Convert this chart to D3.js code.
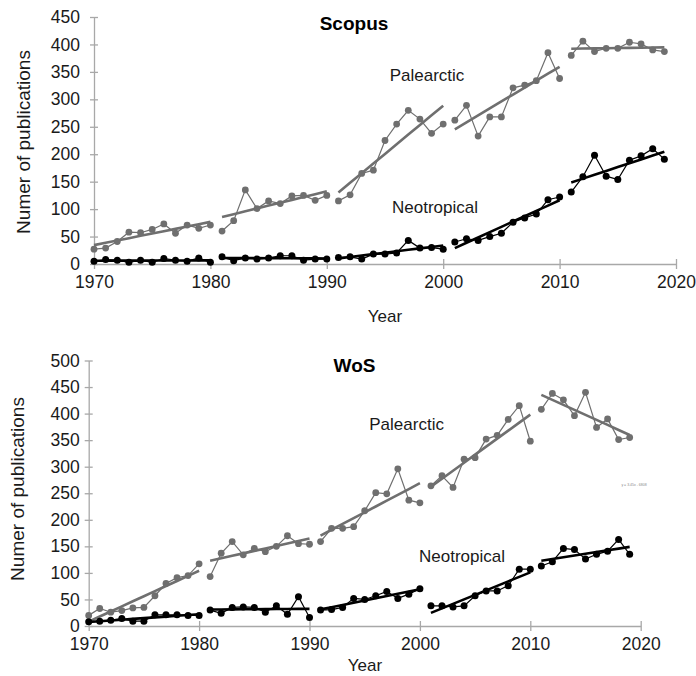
<!DOCTYPE html>
<html>
<head>
<meta charset="utf-8">
<script src="https://cdn.jsdelivr.net/npm/d3@7"></script>
<style>
  body { margin: 0; background: #fff; }
  svg { display: block; font-family: "Liberation Sans", Arial, sans-serif; }
</style>
</head>
<body>
<svg id="chart" width="696" height="676"></svg>
<script>
// years 1970..2019, each decade block drawn as its own segment
const years = d3.range(1970, 2020);
const blockStarts = [1970, 1981, 1991, 2001, 2011];
const blockEnds = [1980, 1990, 2000, 2010, 2019];

const scopusPalearctic = [
  27, 29, 41, 58, 57, 63, 73, 56, 71, 65, 71,
  60, 79, 135, 101, 115, 110, 124, 125, 116, 125,
  115, 126, 165, 171, 225, 255, 280, 264, 238, 255,
  262, 289, 233, 268, 268, 321, 326, 334, 385, 338,
  380, 406, 387, 393, 393, 404, 401, 390, 387
];
const scopusNeotropical = [
  5, 8, 7, 3, 7, 3, 10, 7, 5, 11, 3,
  13, 6, 11, 9, 11, 15, 15, 7, 9, 9,
  12, 13, 9, 18, 18, 20, 43, 29, 30, 27,
  40, 46, 43, 50, 56, 76, 84, 91, 117, 122,
  131, 159, 198, 160, 154, 189, 197, 210, 191
];
const wosPalearctic = [
  20, 33, 26, 29, 34, 35, 57, 80, 91, 95, 117,
  93, 137, 159, 134, 146, 140, 150, 170, 155, 154,
  159, 184, 184, 187, 217, 251, 249, 296, 237, 232,
  264, 283, 261, 314, 317, 352, 359, 389, 415, 348,
  408, 438, 426, 396, 440, 374, 390, 351, 355
];
const wosNeotropical = [
  8, 9, 11, 14, 9, 9, 21, 21, 21, 20, 20,
  30, 24, 35, 36, 35, 26, 38, 22, 55, 16,
  30, 31, 35, 52, 50, 57, 65, 52, 60, 70,
  38, 38, 36, 38, 57, 66, 66, 76, 107, 107,
  113, 121, 146, 144, 126, 135, 141, 163, 135
];
const xTicks = [1970, 1980, 1990, 2000, 2010, 2020];

const grey = "#6f6f6f";
const black = "#000";
const textColor = "#1a1a1a";
const axisColor = "#a8a8a8";

const svg = d3.select("#chart");

function fitLine(pts) {
  const mx = d3.mean(pts, d => d.year), my = d3.mean(pts, d => d.value);
  const sxy = d3.sum(pts, d => (d.year - mx) * (d.value - my));
  const sxx = d3.sum(pts, d => (d.year - mx) * (d.year - mx));
  const b = sxy / sxx;
  return pts.map(d => ({ year: d.year, value: my + b * (d.year - mx) }));
}

function drawPanel(p) {
  const g = svg.append("g");
  const x = d3.scaleLinear().domain([1970, 2020]).range(p.xRange);
  const y = d3.scaleLinear().domain([0, p.yMax]).range(p.yRange);

  // y axis
  const ya = g.append("g")
    .attr("transform", "translate(" + p.xRange[0] + ",0)")
    .call(d3.axisLeft(y).tickValues(d3.range(0, p.yMax + 1, 50))
      .tickSizeInner(4).tickSizeOuter(0).tickPadding(p.yPad));
  ya.selectAll(".tick line").attr("x1", 4);

  // x axis
  const xa = g.append("g")
    .attr("transform", "translate(0," + p.yRange[0] + ")")
    .call(d3.axisBottom(x).tickValues(xTicks).tickFormat(d3.format("d"))
      .tickSizeInner(5).tickSizeOuter(0).tickPadding(7));
  xa.selectAll(".tick line").attr("y1", -5);

  g.selectAll(".domain, .tick line").attr("stroke", axisColor).attr("stroke-width", 1.3);
  g.selectAll(".tick text").attr("fill", textColor).style("font-size", "17.5px");

  const line = d3.line().x(d => x(d.year)).y(d => y(d.value));

  p.series.forEach(s => {
    const pts = years.map((yr, i) => ({ year: yr, value: s.values[i] }));
    blockStarts.forEach((st, k) => {
      const seg = pts.filter(d => d.year >= st && d.year <= blockEnds[k]);
      g.append("path").datum(seg)
        .attr("d", line).attr("fill", "none")
        .attr("stroke", s.color).attr("stroke-width", 1.2);
      g.append("path").datum(fitLine(seg))
        .attr("d", line).attr("fill", "none")
        .attr("stroke", s.color).attr("stroke-width", 2.6);
    });
    g.selectAll(null).data(pts).enter().append("circle")
      .attr("cx", d => x(d.year)).attr("cy", d => y(d.value))
      .attr("r", s.r).attr("fill", s.color);
  });

  // texts
  g.append("text").attr("x", p.title[0]).attr("y", p.title[1])
    .attr("text-anchor", "middle").attr("font-weight", "bold")
    .style("font-size", "19px").attr("fill", "#000").text(p.titleText);
  p.labels.forEach(l => {
    g.append("text").attr("x", l[0]).attr("y", l[1])
      .attr("text-anchor", "middle").style("font-size", "17px")
      .attr("fill", textColor).text(l[2]);
  });
  g.append("text").attr("x", p.xTitle[0]).attr("y", p.xTitle[1])
    .attr("text-anchor", "middle").style("font-size", "17px")
    .attr("fill", textColor).text("Year");
  g.append("text")
    .attr("transform", "translate(" + p.yTitle[0] + "," + p.yTitle[1] + ") rotate(-90)")
    .attr("text-anchor", "middle").attr("dominant-baseline", "central")
    .style("font-size", "19px").attr("fill", textColor).text("Numer of publications");
  return g;
}

drawPanel({
  xRange: [94, 676], yRange: [264, 17], yMax: 450, yPad: 10,
  series: [
    { values: scopusPalearctic, color: grey, r: 3.4 },
    { values: scopusNeotropical, color: black, r: 3.5 }
  ],
  titleText: "Scopus", title: [354, 30],
  labels: [[427, 80.5, "Palearctic"], [435, 213, "Neotropical"]],
  xTitle: [385, 322], yTitle: [23, 142]
});

const bottom = drawPanel({
  xRange: [88.7, 640.7], yRange: [626, 360.5], yMax: 500, yPad: 5,
  series: [
    { values: wosPalearctic, color: grey, r: 3.4 },
    { values: wosNeotropical, color: black, r: 3.5 }
  ],
  titleText: "WoS", title: [354.5, 371.7],
  labels: [[406.6, 430, "Palearctic"], [462, 562, "Neotropical"]],
  xTitle: [365, 671], yTitle: [17, 489]
});

// stray trendline equation left on the WoS panel
bottom.append("text").attr("x", 634).attr("y", 485.5)
  .attr("text-anchor", "middle").style("font-size", "3.5px")
  .attr("fill", "#888").text("y = 3.45x - 6808");
</script>
</body>
</html>
